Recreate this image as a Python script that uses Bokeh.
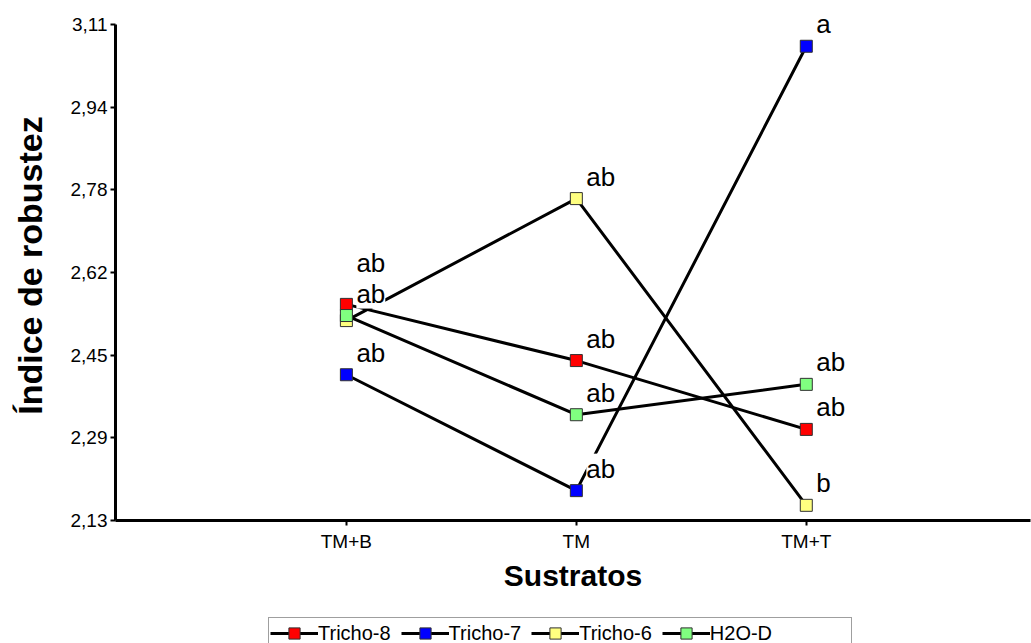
import numpy as np
from bokeh.plotting import figure
from bokeh.layouts import column
from bokeh.models import FixedTicker, Legend, LegendItem, Range1d
from bokeh.core.properties import value
from bokeh.embed import file_html
from bokeh.resources import INLINE

# ---- data ----
sustratos = ["TM+B", "TM", "TM+T"]
series_names = ["Tricho-8", "Tricho-7", "Tricho-6", "H2O-D"]
tricho8 = [2.557, 2.446, 2.310]
tricho7 = [2.418, 2.189, 3.067]
tricho6 = [2.525, 2.766, 2.160]
h2o_d = [2.535, 2.339, 2.399]
letras8 = ["ab", "ab", "ab"]
letras7 = ["ab", "ab", "a"]
letras6 = ["ab", "ab", "b"]
letras_h = ["", "ab", "ab"]
y_tick_labels = ["2,13", "2,29", "2,45", "2,62", "2,78", "2,94", "3,11"]

# ---- styles ----
colors = ["#ff0000", "#0000ff", "#ffff80", "#80ff80"]
extra_dy = [[-19, 0, 0], [0, 0, 0], [-5, 0, 0], [0, 0, 0]]  # label nudges (px)

FONT = "Liberation Sans"
ymin, ymax = 2.13, 3.11
px_per_unit = 496.0 / (ymax - ymin)
y_hi = ymax + 14.0 / px_per_unit

p = figure(width=1031, height=600, output_backend="svg", toolbar_location=None,
           x_range=Range1d(-1.004, 2.975), y_range=Range1d(ymin, y_hi),
           min_border_left=115, min_border_right=1, min_border_top=10, min_border_bottom=80)
p.background_fill_color = "white"
p.border_fill_color = "white"
p.outline_line_color = None
p.grid.visible = False

xs = list(range(len(sustratos)))
all_series = [tricho8, tricho7, tricho6, h2o_d]
all_letters = [letras8, letras7, letras6, letras_h]

for ys in all_series:
    p.line(xs, ys, line_color="black", line_width=3)

for ys, lets, dys in zip(all_series, all_letters, extra_dy):
    p.text([x for x, l in zip(xs, lets) if l], [y for y, l in zip(ys, lets) if l],
           text=[l for l in lets if l], x_offset=10,
           y_offset=[-22 + d for d, l in zip(dys, lets) if l],
           text_font=value(FONT), text_font_size="26px", text_color="black",
           text_baseline="alphabetic", text_align="left",
           background_fill_color="white", padding=0)

for ys, c in zip(all_series, colors):
    p.scatter(xs, ys, marker="square", size=12, fill_color=c,
              line_color="#303030", line_width=1)

# axes
p.xaxis.ticker = FixedTicker(ticks=xs)
p.xaxis.major_label_overrides = {i: s for i, s in enumerate(sustratos)}
yt = list(np.linspace(ymin, ymax, len(y_tick_labels)))
p.yaxis.ticker = FixedTicker(ticks=yt)
p.yaxis.major_label_overrides = {t: s for t, s in zip(yt, y_tick_labels)}
p.yaxis.bounds = (ymin, ymax)

for ax in (p.xaxis[0], p.yaxis[0]):
    ax.axis_line_width = 3
    ax.axis_line_color = "black"
    ax.major_tick_line_width = 2
    ax.major_tick_line_color = "black"
    ax.major_tick_out = 5
    ax.major_tick_in = 0
    ax.minor_tick_line_color = None
    ax.major_label_text_font = FONT
    ax.major_label_text_font_size = "19px"
    ax.major_label_text_color = "black"
    ax.axis_label_text_font = FONT
    ax.axis_label_text_font_style = "bold"
    ax.axis_label_text_color = "black"

p.xaxis.axis_label = "Sustratos"
p.xaxis.axis_label_text_font_size = "30px"
p.xaxis.major_label_standoff = 5
p.xaxis.axis_label_standoff = 4
p.yaxis.axis_label = "Índice de robustez"
p.yaxis.axis_label_text_font_size = "34px"
p.yaxis.major_label_standoff = 3
p.yaxis.axis_label_standoff = 19

# ---- legend strip below the chart ----
pl = figure(width=1031, height=43, output_backend="svg", toolbar_location=None,
            x_range=Range1d(0, 1), y_range=Range1d(0, 1),
            min_border_left=0, min_border_right=0, min_border_top=0, min_border_bottom=0)
pl.axis.visible = False
pl.grid.visible = False
pl.outline_line_color = None
pl.background_fill_color = "white"
pl.border_fill_color = "white"

# off-screen proxies so the legend can draw each series' glyph
px_, py_ = [-5, -4], [-5, -5]
items = []
for n, c in zip(series_names, colors):
    lr = pl.line(px_, py_, line_color="black", line_width=3)
    mr = pl.scatter(px_[:1], py_[:1], marker="square", size=12, fill_color=c,
                    line_color="#303030", line_width=1)
    items.append(LegendItem(label=n, renderers=[lr, mr]))
blank = pl.scatter(px_[:1], py_[:1], marker="square", fill_alpha=0, line_alpha=0)
items.append(LegendItem(label=" ", renderers=[blank]))

legend = Legend(items=items, orientation="horizontal", location=(153, -6),
                label_text_font=FONT, label_text_font_size="20px",
                label_text_color="black",
                label_standoff=0, glyph_width=48, glyph_height=28,
                spacing=10, padding=1, margin=0,
                border_line_color="#404040", border_line_width=1,
                label_height=20, background_fill_color="white")
pl.add_layout(legend, "center")

layout = column(p, pl, spacing=0)
open("out.html", "w").write(file_html(layout, INLINE))
